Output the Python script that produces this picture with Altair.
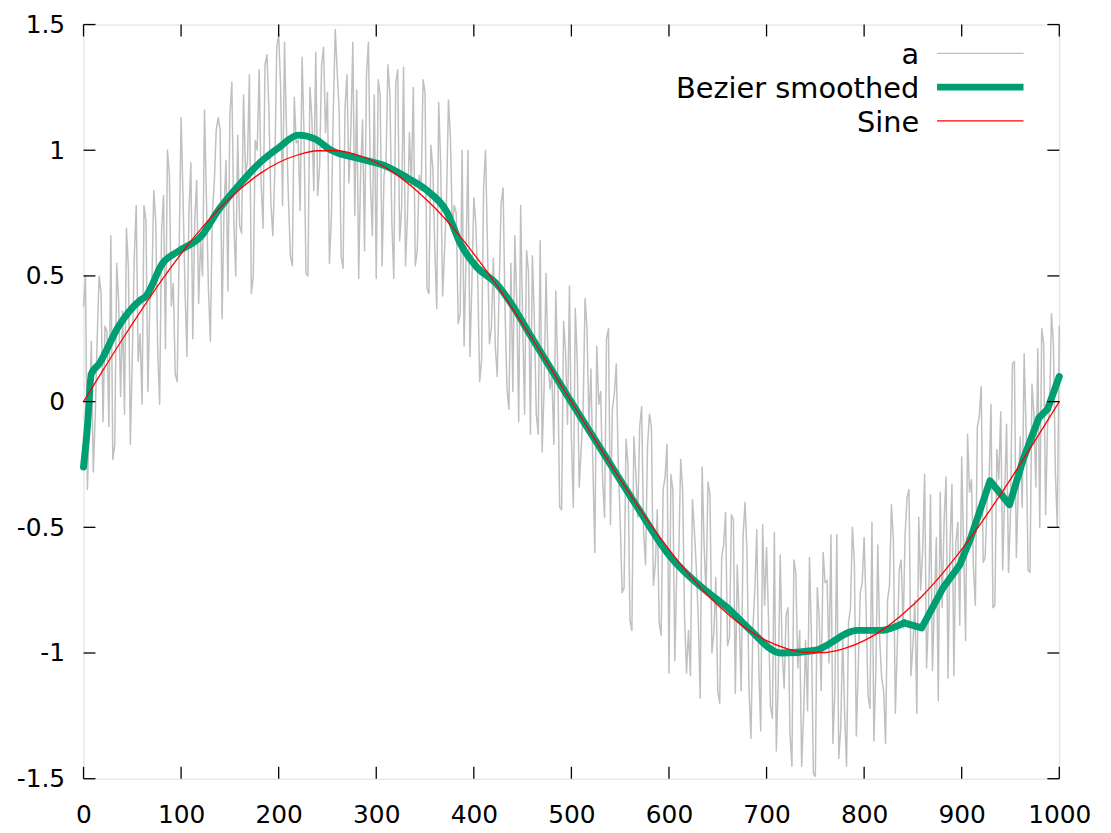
import altair as alt
import pandas as pd

# ---------------- data ----------------
# noisy series "a": samples at x = 0, 4, 8, ..., 1000
a_x1 = list(range(0, 1001, 4))
a_y1 = [
    0.38, -0.35, 0.24, -0.06, 0.50,
    -0.08, 0.28, 0.66, -0.17, 0.40,
    0.36, 0.69, -0.17, 0.57, 0.16,
    -0.01, 0.72, 0.40, 0.84, 0.21,
    0.68, 0.21, 0.90, 0.47, 0.08,
    1.13, 0.45, 0.75, 0.25, 0.88,
    0.64, 1.16, 0.45, 0.75, 1.08,
    1.08, 0.76, 0.44, 1.27, 0.50,
    0.70, 1.22, 0.95, 0.43, 1.04,
    1.32, 0.69, 1.38, 0.79, 0.91,
    1.46, 0.78, 1.08, 0.58, 1.21,
    1.04, 1.37, 0.51, 1.25, 0.84,
    0.82, 1.34, 1.07, 0.55, 1.16,
    1.31, 0.58, 1.17, 0.87, 1.43,
    1.24, 0.92, 0.60, 1.43, 0.66,
    0.49, 1.22, 0.90, 1.34, 0.71,
    1.27, 0.64, 1.33, 0.74, 0.86,
    0.54, 0.90, 1.28, 0.45, 1.02,
    0.61, 1.19, 0.42, 0.80, 1.05,
    0.78, 0.31, 1.00, 0.57, 0.18,
    0.81, 0.49, 0.17, 1.00, 0.23,
    0.57, 0.10, 0.79, 0.36, -0.03,
    0.04, 0.40, 0.78, -0.05, 0.52,
    0.58, -0.05, 0.64, 0.05, 0.17,
    0.11, 0.44, -0.42, 0.32, -0.09,
    -0.15, 0.37, -0.34, -0.04, 0.29,
    0.13, -0.60, -0.01, -0.31, 0.25,
    -0.49, 0.03, -0.24, -0.76, -0.15,
    -0.87, -0.14, -0.46, -0.02, -0.65,
    -0.05, -0.73, -0.43, -0.93, -0.30,
    -1.08, -0.35, -0.67, -0.23, -0.86,
    -0.91, -0.39, -0.66, -1.18, -0.57,
    -0.32, -1.00, -0.70, -1.20, -0.57,
    -0.97, -0.45, -1.16, -0.86, -0.53,
    -0.61, -1.34, -0.75, -1.05, -0.49,
    -0.58, -1.21, -0.52, -1.11, -0.99,
    -0.85, -1.32, -0.63, -1.06, -1.45,
    -0.95, -0.62, -1.48, -0.74, -1.15,
    -0.72, -1.04, -1.36, -0.53, -1.30,
    -1.24, -0.88, -0.50, -1.33, -0.76,
    -0.54, -1.17, -0.48, -1.07, -0.95,
    -1.15, -0.79, -0.41, -1.24, -0.67,
    -0.90, -0.38, -1.09, -0.79, -0.46,
    -0.59, -1.06, -0.37, -0.80, -1.19,
    -0.82, -0.30, -0.57, -1.09, -0.48,
    -0.22, -0.95, -0.36, -0.66, -0.10,
    0.06, -0.62, -0.32, -0.82, -0.19,
    -0.04, -0.36, -0.68, 0.15, -0.62,
    -0.14, 0.19, -0.67, 0.07, -0.34,
    -0.50, 0.23, -0.09, 0.35, -0.28,
    0.30,
]
# noisy series "a": samples at x = 2, 6, 10, ..., 998
a_x2 = list(range(2, 1000, 4))
a_y2 = [
    0.50, -0.05, -0.28, 0.25, 0.43,
    0.30, -0.10, -0.23, 0.55, 0.02,
    -0.05, 0.53, 0.18, 0.78, 0.27,
    0.78, 0.04, 0.45, 0.72, -0.01,
    0.82, 1.00, 0.38, 0.11, 0.60,
    0.81, 0.18, 0.95, 0.72, 0.39,
    0.50, 0.80, 0.24, 0.87, 1.13,
    0.33, 0.96, 1.14, 0.72, 1.06,
    0.67, 0.91, 1.30, 0.50, 1.00,
    0.87, 1.34, 1.16, 0.66, 1.41,
    1.25, 1.43, 0.81, 0.54, 1.03,
    0.76, 1.06, 0.50, 1.13, 1.39,
    0.94, 1.41, 1.23, 0.73, 1.48,
    1.16, 0.53, 1.30, 1.07, 0.74,
    0.49, 1.12, 1.30, 0.88, 1.22,
    1.28, 0.54, 0.95, 1.22, 0.49,
    1.32, 0.77, 0.54, 1.07, 1.25,
    0.60, 0.84, 1.23, 0.43, 0.93,
    0.37, 0.95, 0.60, 1.20, 0.69,
    0.75, 0.35, 0.22, 1.00, 0.47,
    0.71, 0.08, 0.85, 0.62, 0.29,
    0.22, 0.46, 0.85, 0.05, 0.55,
    0.66, -0.08, 0.33, 0.60, -0.13,
    0.33, -0.13, -0.20, 0.51, 0.05,
    -0.17, 0.13, -0.43, 0.20, 0.46,
    -0.42, 0.16, -0.19, 0.41, -0.10,
    -0.25, 0.22, 0.04, -0.46, 0.29,
    -0.03, 0.15, -0.47, -0.74, -0.25,
    -0.91, -0.28, -0.10, -0.52, -0.18,
    -0.10, -0.65, -0.88, -0.35, -0.17,
    -0.29, -1.03, -0.62, -0.35, -1.08,
    -1.09, -0.51, -0.86, -0.26, -0.77,
    -0.37, -0.92, -1.15, -0.62, -0.44,
    -0.94, -0.47, -0.65, -1.15, -0.40,
    -1.14, -0.90, -0.51, -1.31, -0.81,
    -0.86, -1.26, -1.39, -0.61, -1.14,
    -0.82, -1.45, -0.68, -0.91, -1.24,
    -1.23, -0.93, -1.49, -0.86, -0.60,
    -0.71, -0.53, -1.15, -1.42, -0.93,
    -1.45, -0.82, -0.64, -1.06, -0.72,
    -0.82, -1.22, -1.35, -0.57, -1.10,
    -1.36, -0.73, -0.55, -0.97, -0.63,
    -0.53, -0.35, -0.97, -1.24, -0.75,
    -0.29, -0.84, -1.07, -0.54, -0.36,
    -0.47, -1.10, -0.33, -0.56, -0.89,
    -0.60, -0.13, -0.31, -0.81, -0.06,
    -0.64, -0.40, -0.01, -0.81, -0.31,
    -0.67, -0.09, -0.44, 0.16, -0.35,
    -0.42, -0.12, -0.68, -0.05, 0.21,
    0.29, -0.45, -0.04, 0.23, -0.50,
]

# Bezier smoothed curve: smooth part, then angular tail
b_x_smooth = [0, 4, 8, 16, 36, 57, 64, 81, 98, 121, 138, 159, 182, 200, 220, 237,
              254, 284, 311, 332, 352, 373, 386, 403, 423, 440, 457, 498, 532, 566,
              600, 634, 647, 660, 681, 715, 749, 793, 817, 841]
b_y_smooth = [-0.26, -0.10, 0.11, 0.15, 0.30, 0.40, 0.42, 0.55, 0.60, 0.66, 0.76,
              0.86, 0.955, 1.01, 1.06, 1.045, 1.0, 0.965, 0.935, 0.89, 0.84, 0.75,
              0.63, 0.535, 0.47, 0.38, 0.27, 0.01, -0.20, -0.41, -0.61, -0.74,
              -0.78, -0.82, -0.90, -1.0, -0.99, -0.91, -0.91, -0.88]
b_x_tail = [841, 859, 881, 898, 909, 929, 949, 963, 979, 988, 1000]
b_y_tail = [-0.88, -0.90, -0.74, -0.65, -0.545, -0.315, -0.41, -0.23, -0.065,
            -0.03, 0.10]

# Sine curve
s_x = list(range(0, 1001, 20))
s_y = [0, 0.125, 0.249, 0.368, 0.482, 0.588, 0.685, 0.771, 0.844, 0.905, 0.951,
       0.982, 0.998, 0.998, 0.982, 0.951, 0.905, 0.844, 0.771, 0.685, 0.588,
       0.482, 0.368, 0.249, 0.125, 0, -0.125, -0.249, -0.368, -0.482, -0.588,
       -0.685, -0.771, -0.844, -0.905, -0.951, -0.982, -0.998, -0.998, -0.982,
       -0.951, -0.905, -0.844, -0.771, -0.685, -0.588, -0.482, -0.368, -0.249,
       -0.125, 0]

x_ticks = [0, 100, 200, 300, 400, 500, 600, 700, 800, 900, 1000]
y_ticks = [-1.5, -1, -0.5, 0, 0.5, 1, 1.5]

series_names = ["a", "Bezier smoothed", "Sine"]
series_colors = ["#c0c0c0", "#009e73", "#ff0000"]
series_widths = [1.5, 7, 1.3]

# ---------------- layout ----------------
W, H = 982, 759
FONT = "DejaVu Sans"
TICK = 12

xs = alt.Scale(domain=[0, 1000], nice=False, zero=False)
ys = alt.Scale(domain=[-1.5, 1.5], nice=False, zero=False)

x_axis = alt.Axis(values=x_ticks, title=None, grid=False, domain=False, ticks=False,
                  format="d", labelFont=FONT, labelFontSize=25, labelColor="black",
                  labelPadding=24, labelFlush=False, labelOverlap=False)
y_axis = alt.Axis(values=y_ticks, title=None, grid=False, domain=False, ticks=False,
                  labelFont=FONT, labelFontSize=25, labelColor="black",
                  labelPadding=19, labelOverlap=False, labelFlush=False,
                  labelExpr="datum.value < 0 ? '-' + format(-datum.value, '') : format(datum.value, '')")

df_a = pd.concat([pd.DataFrame({"x": a_x1, "y": a_y1}),
                  pd.DataFrame({"x": a_x2, "y": a_y2})]).sort_values("x")
df_b1 = pd.DataFrame({"x": b_x_smooth, "y": b_y_smooth})
df_b2 = pd.DataFrame({"x": b_x_tail, "y": b_y_tail})
df_s = pd.DataFrame({"x": s_x, "y": s_y})


def line_layer(df, color, width, interp="linear"):
    return alt.Chart(df).mark_line(color=color, strokeWidth=width, interpolate=interp,
                                   strokeJoin="round", strokeCap="round").encode(
        x=alt.X("x:Q", scale=xs, axis=x_axis),
        y=alt.Y("y:Q", scale=ys, axis=y_axis),
    )


layers = [
    line_layer(df_a, series_colors[0], series_widths[0]),
    line_layer(df_b1, series_colors[1], series_widths[1], "monotone"),
    line_layer(df_b2, series_colors[1], series_widths[1], "linear"),
    line_layer(df_s, series_colors[2], series_widths[2], "monotone"),
]

# inward tick marks on all four sides
df_yt = pd.DataFrame({"y": y_ticks})
df_xt = pd.DataFrame({"x": x_ticks})
tick_style = dict(color="black", strokeWidth=1.3)
layers += [
    alt.Chart(df_yt).mark_rule(**tick_style).encode(
        y=alt.Y("y:Q", scale=ys, axis=y_axis), x=alt.value(0), x2=alt.value(TICK)),
    alt.Chart(df_yt).mark_rule(**tick_style).encode(
        y=alt.Y("y:Q", scale=ys, axis=y_axis), x=alt.value(W - TICK), x2=alt.value(W)),
    alt.Chart(df_xt).mark_rule(**tick_style).encode(
        x=alt.X("x:Q", scale=xs, axis=x_axis), y=alt.value(H - TICK), y2=alt.value(H)),
    alt.Chart(df_xt).mark_rule(**tick_style).encode(
        x=alt.X("x:Q", scale=xs, axis=x_axis), y=alt.value(0), y2=alt.value(TICK)),
]

# gnuplot-style key (top right, text left of the sample line)
key_text_x = 841
key_line_x1, key_line_x2 = 859, 946
key_rows = [29, 63, 97]
key_widths = [1.2, 7, 1.3]
for name, color, width, ry in zip(series_names, series_colors, key_widths, key_rows):
    df_k = pd.DataFrame({"label": [name]})
    layers.append(
        alt.Chart(df_k).mark_text(align="right", baseline="middle", font=FONT,
                                  fontSize=29, color="black").encode(
            text="label:N", x=alt.value(key_text_x), y=alt.value(ry + 2))
    )
    layers.append(
        alt.Chart(df_k).mark_rule(color=color, strokeWidth=width).encode(
            x=alt.value(key_line_x1), x2=alt.value(key_line_x2), y=alt.value(ry))
    )

chart = alt.layer(*layers).properties(
    width=W, height=H,
    autosize=alt.AutoSizeParams(type="none"),
    padding={"left": 76, "top": 14, "right": 44, "bottom": 52},
).configure_view(stroke="black", strokeWidth=1.5).configure(background="white")

chart.save("out.html", embed_options={"renderer": "svg", "actions": False})
